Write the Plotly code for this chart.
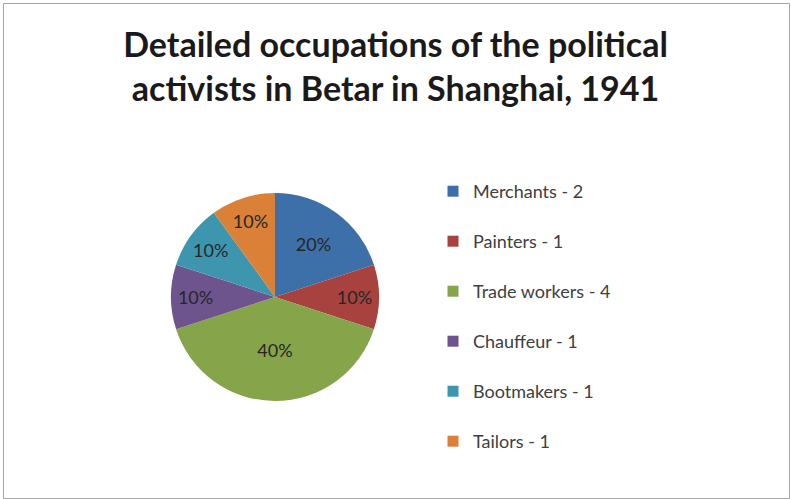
import plotly.graph_objects as go

categories = ["Merchants", "Painters", "Trade workers", "Chauffeur", "Bootmakers", "Tailors"]
counts = [2, 1, 4, 1, 1, 1]
colors = ["#3D6FA8", "#A8423F", "#86A44A", "#6E548D", "#3D96AE", "#DA8137"]
title_lines = ["Detailed occupations of the political", "activists in Betar in Shanghai, 1941"]

W, H = 791, 499
FONT = "Lato, Carlito, sans-serif"
fig = go.Figure()
fig.add_trace(go.Pie(
    labels=categories, values=counts, sort=False, direction="clockwise", rotation=0,
    marker=dict(colors=colors, line=dict(width=0)),
    texttemplate="%{percent:.0%}", textposition="inside", insidetextorientation="horizontal",
    textfont=dict(family=FONT, size=18, color="#262626"),
    domain=dict(x=[171 / W, 379 / W], y=[(H - 401) / H, (H - 193) / H]),
    showlegend=False, hoverinfo="label+percent",
))
for cat, cnt, col in zip(categories, counts, colors):
    fig.add_trace(go.Scatter(
        x=[None], y=[None], mode="markers", name=f"{cat} - {cnt}", legendgroup=cat,
        marker=dict(symbol="square", size=11, color=col),
    ))

fig.update_layout(
    width=W, height=H, margin=dict(l=0, r=0, t=0, b=0),
    paper_bgcolor="white", plot_bgcolor="white",
    title=dict(text="<br>".join(title_lines), x=0.5, xanchor="center", y=1 - 57 / H, yanchor="middle",
               font=dict(family=FONT, size=34, color="#1a1a1a", weight="bold")),
    xaxis=dict(visible=False), yaxis=dict(visible=False),
    legend=dict(x=433 / W, y=(H - 173) / H, xanchor="left", yanchor="top",
                tracegroupgap=23.6, font=dict(family=FONT, size=18, color="#404040"),
                itemwidth=30, bgcolor="rgba(0,0,0,0)"),
    shapes=[dict(type="rect", xref="paper", yref="paper", x0=3.5 / W, x1=789.5 / W, y0=0.5 / H, y1=(H - 3.5) / H,
                 line=dict(color="#A6A6A6", width=1), fillcolor="rgba(0,0,0,0)")],
)
fig.write_html("out.html", config={"displayModeBar": False},
               post_script="document.body.style.margin='0';")
